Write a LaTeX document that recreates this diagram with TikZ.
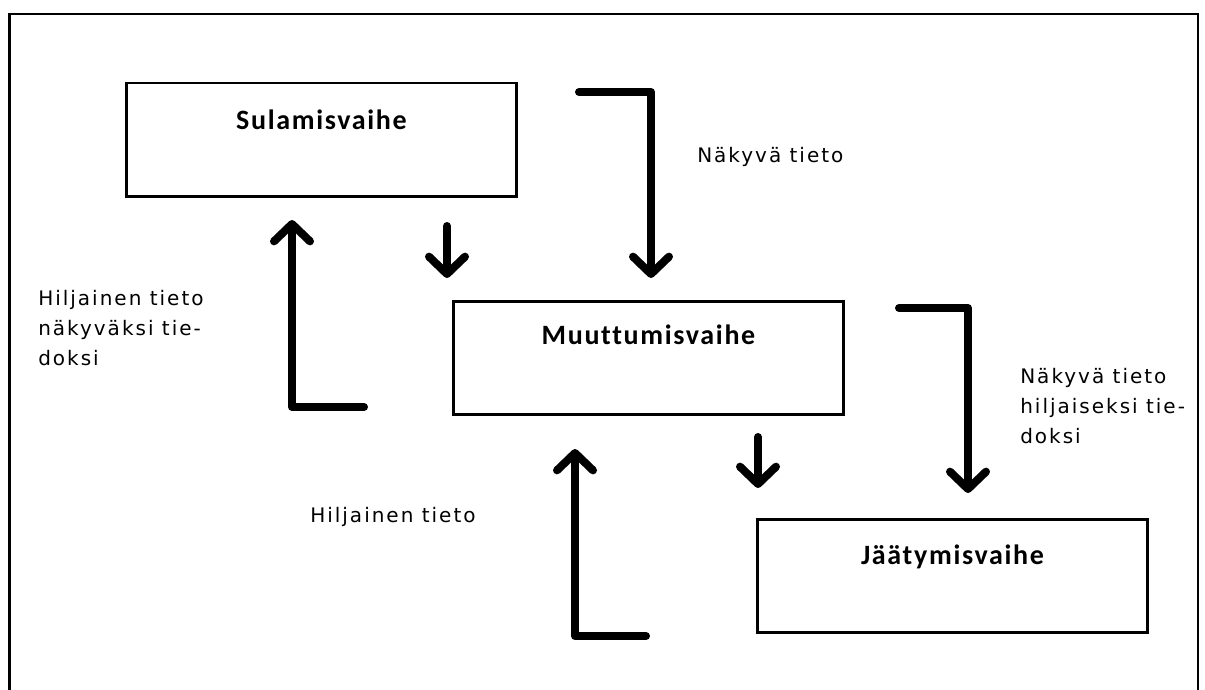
\documentclass[tikz,border=0pt]{standalone}
\usepackage{fontspec}
\usetikzlibrary{arrows.meta}
\newfontfamily\phasefont[LetterSpace=6,Ligatures=NoCommon]{Carlito}
\newfontfamily\notefont[LetterSpace=10,Ligatures=NoCommon]{DejaVu Sans}
\begin{document}
\begin{tikzpicture}[x=0.75pt,y=-0.75pt,
  frame/.style={line width=2.2pt},
  phase/.style={draw,line width=2.2pt,minimum width=292.5pt,minimum height=85pt,inner sep=0pt},
  phasetext/.style={font=\phasefont\bfseries\fontsize{21pt}{25pt}\selectfont,anchor=base,inner sep=0pt},
  note/.style={font=\notefont\fontsize{15pt}{22.5pt}\selectfont,align=left,anchor=base west,inner sep=0pt},
  flow/.style={line width=6pt,line cap=round,line join=round,
    -{Straight Barb[length=13pt,width=27pt,line cap=round,line join=round]}}]
\useasboundingbox (0,0) rectangle (1205,689);
% outer frame, open at the bottom
\draw[frame] (9.5,700) -- (9.5,14) -- (1198,14) -- (1198,700);

% the three phases
\node[phase,anchor=north west] (sula) at (125,81.5) {};
\node[phase,anchor=north west] (muut) at (452,300) {};
\node[phase,anchor=north west] (jaat) at (756,518) {};
\node[phasetext] (sulat) at ([yshift=-36pt]sula.north) {Sulamisvaihe};
\node[phasetext] (muutt) at ([yshift=-33pt]muut.north) {Muuttumisvaihe};
\node[phasetext] (jaatt) at ([yshift=-35pt]jaat.north) {Jäätymisvaihe};

% arrow end points
\coordinate (a1s) at (579,92);  \coordinate (a1c) at (651,92);  \coordinate (a1e) at (651,278);
\coordinate (a2s) at (364,407); \coordinate (a2c) at (292,407); \coordinate (a2e) at (292,220);
\coordinate (a3s) at (447,226); \coordinate (a3e) at (447,278);
\coordinate (a4s) at (899,308); \coordinate (a4c) at (968,308); \coordinate (a4e) at (968,493);
\coordinate (a5s) at (758,437); \coordinate (a5e) at (758,488);
\coordinate (a6s) at (646,636); \coordinate (a6c) at (575,636); \coordinate (a6e) at (575,449);

\draw[flow] (a1s) -- (a1c) -- (a1e);
\draw[flow] (a2s) -- (a2c) -- (a2e);
\draw[flow] (a3s) -- (a3e);
\draw[flow] (a4s) -- (a4c) -- (a4e);
\draw[flow] (a5s) -- (a5e);
\draw[flow] (a6s) -- (a6c) -- (a6e);

% labels (multi-line nodes are placed by the baseline of their last line)
\node[note] (n1) at (697,162) {Näkyvä tieto};
\node[note] (n2) at (38,365) {Hiljainen tieto\\näkyväksi tie-\\doksi};
\node[note] (n3) at (1020,443) {Näkyvä tieto\\hiljaiseksi tie-\\doksi};
\node[note] (n4) at (310,522) {Hiljainen tieto};
\end{tikzpicture}
\end{document}
